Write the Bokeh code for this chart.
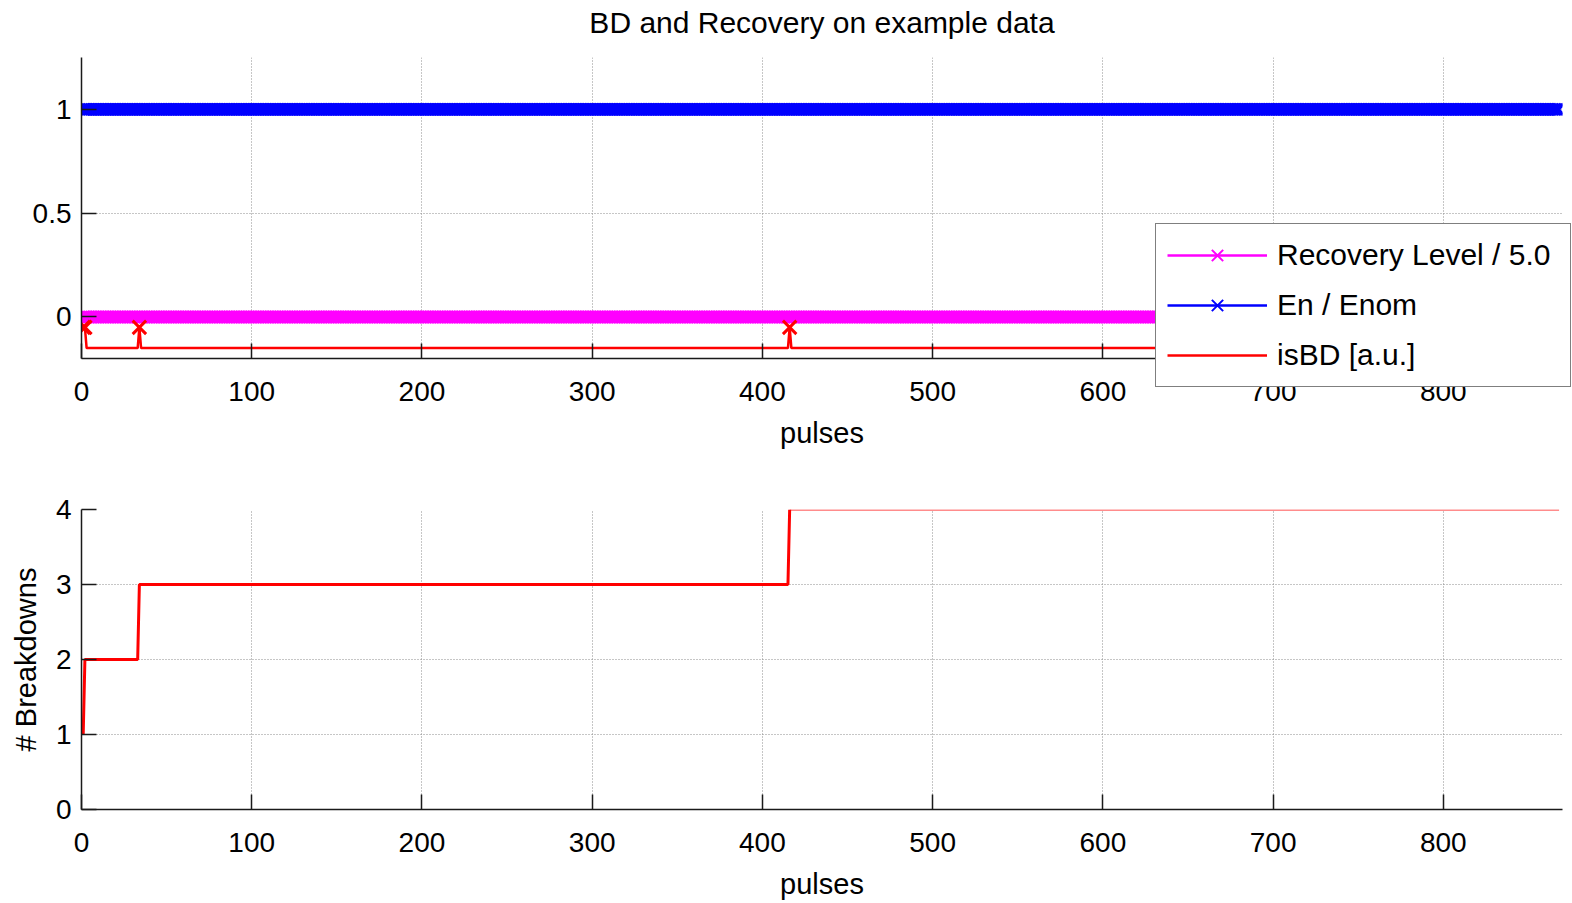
import numpy as np
from bokeh.plotting import figure
from bokeh.models import (Range1d, FixedTicker, Legend, LegendItem, ColumnDataSource,
                          GridBox, Label)
from bokeh.embed import file_html
from bokeh.resources import INLINE

# ---------------- data ----------------
n_pulses = 868
pulses = list(range(1, n_pulses + 1))
bd_pulses = [1, 2, 34, 416]                 # pulses flagged as breakdown
recovery_level_div5 = [0.0] * n_pulses      # Recovery Level / 5.0
en_over_enom = [1.0] * n_pulses             # En / Enom
isbd_offset = -0.15                          # isBD drawn in arbitrary units
isbd_gain = 0.1
x_ticks = [0, 100, 200, 300, 400, 500, 600, 700, 800]
top_y_ticks = [0, 0.5, 1]
top_y_labels = {0: "0", 0.5: "0.5", 1: "1"}
bottom_y_ticks = [0, 1, 2, 3, 4]
x_lim = (0, 870)
top_y_lim = (-0.2, 1.25)
bottom_y_lim = (0, 4)
title_text = "BD and Recovery on example data"
series_labels = ["Recovery Level / 5.0", "En / Enom", "isBD [a.u.]"]

is_bd = [1 if p in bd_pulses else 0 for p in pulses]
isbd_au = [isbd_offset + isbd_gain * v for v in is_bd]
n_breakdowns = list(np.cumsum(is_bd))
last_bd_idx = pulses.index(bd_pulses[-1])

FONT = "Liberation Sans"
W = 1572
LEFT = 81
RIGHT_EDGE = 1562
TOP_H = 452
BOT_H = 903 - TOP_H
MAGENTA, BLUE, RED = "#ff00ff", "#0000ff", "#ff0000"


def style(p):
    p.outline_line_color = None
    p.background_fill_color = "white"
    p.border_fill_color = "white"
    for ax in (p.xaxis[0], p.yaxis[0]):
        ax.axis_line_color = "#1a1a1a"
        ax.axis_line_width = 1.5
        ax.major_tick_line_color = "#1a1a1a"
        ax.major_tick_line_width = 1.5
        ax.major_tick_in = 15
        ax.major_tick_out = 0
        ax.minor_tick_line_color = None
        ax.major_label_text_font = FONT
        ax.major_label_text_font_size = "28px"
        ax.major_label_text_color = "black"
        ax.axis_label_text_font = FONT
        ax.axis_label_text_font_size = "29px"
        ax.axis_label_text_font_style = "normal"
        ax.axis_label_text_color = "black"
    p.xaxis.major_label_standoff = 23
    p.yaxis.major_label_standoff = 10
    p.xaxis.axis_label_standoff = 13
    for g in (p.xgrid[0], p.ygrid[0]):
        g.grid_line_color = "#8c8c8c"
        g.grid_line_dash = "1 2"
        g.grid_line_width = 1


src = ColumnDataSource(dict(x=pulses, rec=recovery_level_div5, en=en_over_enom, bd=isbd_au))


def draw_series(p):
    rl = p.line("x", "rec", source=src, line_color=MAGENTA, line_width=2.5)
    rm = p.scatter("x", "rec", source=src, marker="x", size=17, line_color=MAGENTA, line_width=2)
    el = p.line("x", "en", source=src, line_color=BLUE, line_width=2.5)
    em = p.scatter("x", "en", source=src, marker="x", size=17, line_color=BLUE, line_width=2)
    bl = p.line("x", "bd", source=src, line_color=RED, line_width=2.5)
    return rl, rm, el, em, bl


# ---------------- top plot ----------------
top = figure(width=W, height=TOP_H, output_backend="svg", toolbar_location=None,
             x_range=Range1d(*x_lim), y_range=Range1d(*top_y_lim),
             min_border_left=LEFT, min_border_right=W - RIGHT_EDGE, min_border_top=57,
             min_border_bottom=TOP_H - 358)
style(top)
top.xaxis.ticker = FixedTicker(ticks=x_ticks)
top.yaxis.ticker = FixedTicker(ticks=top_y_ticks)
top.yaxis.major_label_overrides = top_y_labels
top.xaxis.axis_label = "pulses"
draw_series(top)
bd_y = [isbd_offset + isbd_gain * 1 for _ in bd_pulses]
top.scatter(bd_pulses, bd_y, marker="x", size=19, line_color=RED, line_width=3)

# ---------------- overlay (title + legend, which overhangs the axes) ----------------
ov = figure(width=W, height=TOP_H, output_backend="svg", toolbar_location=None,
            x_axis_location=None, y_axis_location=None,
            x_range=Range1d(10000, 10001), y_range=Range1d(10000, 10001),
            min_border=0, min_border_left=0, min_border_right=0,
            min_border_top=0, min_border_bottom=0)
try:
    ov.frame_align = False
except Exception:
    pass
ov.outline_line_color = None
ov.background_fill_alpha = 0
ov.border_fill_alpha = 0
ov.grid.visible = False
rl, rm, el, em, bl = draw_series(ov)

legend = Legend(items=[
    LegendItem(label=series_labels[0], renderers=[rl, rm]),
    LegendItem(label=series_labels[1], renderers=[el, em]),
    LegendItem(label=series_labels[2], renderers=[bl]),
], location=(1155, TOP_H - 387))
legend.label_text_font = FONT
legend.label_text_font_size = "30px"
legend.label_text_color = "black"
legend.glyph_width = 100
legend.glyph_height = 40
legend.label_height = 40
legend.label_width = 282
legend.label_standoff = 10
legend.spacing = 10
legend.padding = 11
legend.border_line_color = "black"
legend.border_line_width = 1
legend.background_fill_color = "white"
legend.background_fill_alpha = 1.0
ov.add_layout(legend, "center")

title = Label(x=(LEFT + RIGHT_EDGE) / 2, y=TOP_H - 22, x_units="screen", y_units="screen",
              text=title_text, text_align="center", text_baseline="middle",
              text_font=FONT, text_font_size="30px", text_color="black")
ov.add_layout(title, "center")

# ---------------- bottom plot ----------------
BOT_FRAME_TOP = 509
BOT_FRAME_BOTTOM = 809
bot = figure(width=W, height=BOT_H, output_backend="svg", toolbar_location=None,
             x_range=Range1d(*x_lim), y_range=Range1d(*bottom_y_lim),
             min_border_left=LEFT, min_border_right=W - RIGHT_EDGE,
             min_border_top=BOT_FRAME_TOP - TOP_H,
             min_border_bottom=903 - BOT_FRAME_BOTTOM)
style(bot)
bot.xaxis.ticker = FixedTicker(ticks=x_ticks)
bot.yaxis.ticker = FixedTicker(ticks=bottom_y_ticks)
bot.xaxis.axis_label = "pulses"
bot.yaxis.axis_label = "# Breakdowns"
bot.yaxis.axis_label_standoff = 11

bot.line(pulses[:last_bd_idx + 1], n_breakdowns[:last_bd_idx + 1], line_color=RED, line_width=3)
bot.line(pulses[last_bd_idx:], n_breakdowns[last_bd_idx:], line_color=RED, line_width=3, line_alpha=0.45)

layout = GridBox(children=[(top, 0, 0), (ov, 0, 0), (bot, 1, 0)])
open("out.html", "w").write(file_html(layout, INLINE))
